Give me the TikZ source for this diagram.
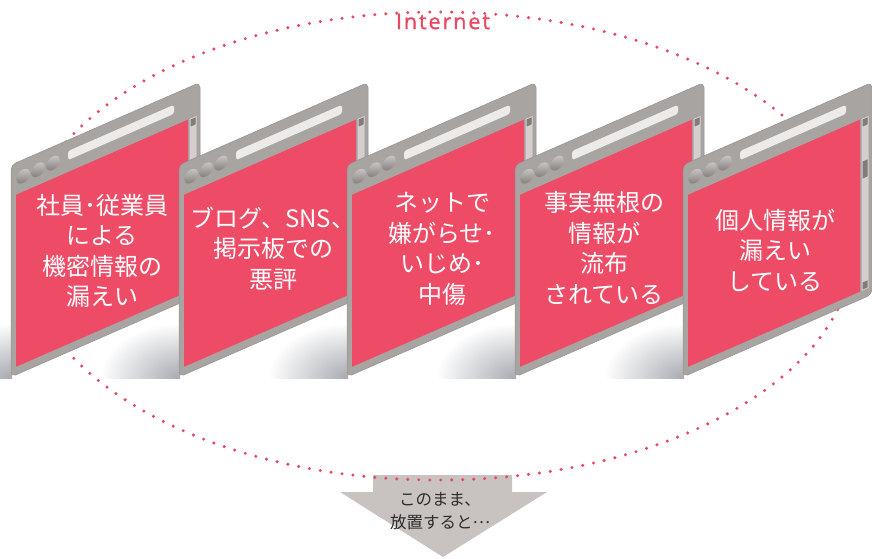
\documentclass[tikz,border=0pt]{standalone}
\usepackage{fontspec}
\newfontfamily\jpfont{Noto Sans CJK JP}
\newfontfamily\netfont[LetterSpace=9,FakeBold=1.2]{Open Sans}
\definecolor{pinkfill}{RGB}{238,76,102}
\definecolor{framegrey}{RGB}{168,164,162}
\definecolor{frameedge}{RGB}{150,146,144}
\definecolor{scrollgrey}{RGB}{212,207,204}
\definecolor{thumbgrey}{RGB}{128,124,122}
\definecolor{addrgrey}{RGB}{237,235,233}
\definecolor{dotred}{RGB}{232,72,96}
\definecolor{arrowgrey}{RGB}{200,195,192}
\definecolor{shadowgrey}{RGB}{168,170,176}
\definecolor{textdark}{RGB}{45,45,45}
\newcommand\browserwin[1]{%
  \begin{scope}[shift={(#1,165)},yslant=0.437]
    \fill[framegrey,draw=frameedge,line width=0.5pt,rounded corners=5pt] (0,0) rectangle (189,212);
    \fill[pinkfill] (5,32) rectangle (177,204);
    \fill[scrollgrey] (178.5,32) rectangle (185.5,204);
    \fill[thumbgrey] (179.5,33) rectangle (184.5,40);
    \fill[thumbgrey] (179.5,75) rectangle (184.5,92);
    \fill[thumbgrey] (179.5,196) rectangle (184.5,203);
    \fill[addrgrey,rounded corners=2.5pt] (57,11) rectangle (163,20);
    \foreach \cx in {12,27,42}{
      \shade[top color=framegrey!60!white,bottom color=thumbgrey] (\cx,16.5) circle[radius=6.8pt];
    }
  \end{scope}}
\newcommand\floorshadow[1]{%
  \begin{scope}
    \clip (#1+1,290) rectangle (#1-90,378);
    \shade[inner color=shadowgrey,outer color=white] (#1+1,378) ellipse [x radius=80pt, y radius=55pt];
  \end{scope}}
\tikzset{
  wintext/.style={text=white,align=center,font=\jpfont\fontsize{24}{30.5}\selectfont,inner sep=0pt},
  arrowtext/.style={text=textdark,align=center,font=\jpfont\fontsize{16.5}{23}\selectfont,inner sep=0pt},
  dotline/.style={dotred,line width=3.4pt,line cap=round,dash pattern=on 0pt off 11pt}
}
\begin{document}
\begin{tikzpicture}[x=1pt,y=-1pt]
\useasboundingbox (0,0) rectangle (872,558);
% bottom arrow
\fill[arrowgrey] (373,475) -- (512,475) -- (512,492) -- (547,492) -- (443,557) -- (340,492) -- (373,492) -- cycle;
\node[arrowtext] (a1) at (440,511) {このまま、\\放置すると\raisebox{0.32em}{…}};
% internet ellipse
\draw[dotline] (438,246) ellipse [x radius=415pt, y radius=234pt];
\node[text=dotred,font=\netfont\fontsize{21.5}{24}\selectfont,inner sep=0pt] (net) at (443,21.5) {Internet};
% shadows
\floorshadow{11}
\floorshadow{179}
\floorshadow{347}
\floorshadow{515}
\floorshadow{683}
% windows
\browserwin{11}
\browserwin{179}
\browserwin{347}
\browserwin{515}
\browserwin{683}
% texts
\node[wintext] (t1) at (102,251) {社員･従業員\\による\\機密情報の\\漏えい};
\node[wintext] (t2) at (273,248.5) {ブログ、SNS、\\掲示板での\\悪評};
\node[wintext] (t3) at (442,249) {ネットで\\嫌がらせ･\\いじめ･\\中傷};
\node[wintext] (t4) at (604,248) {事実無根の\\情報が\\流布\\されている};
\node[wintext] (t5) at (775,250) {個人情報が\\漏えい\\している};
\end{tikzpicture}
\end{document}
